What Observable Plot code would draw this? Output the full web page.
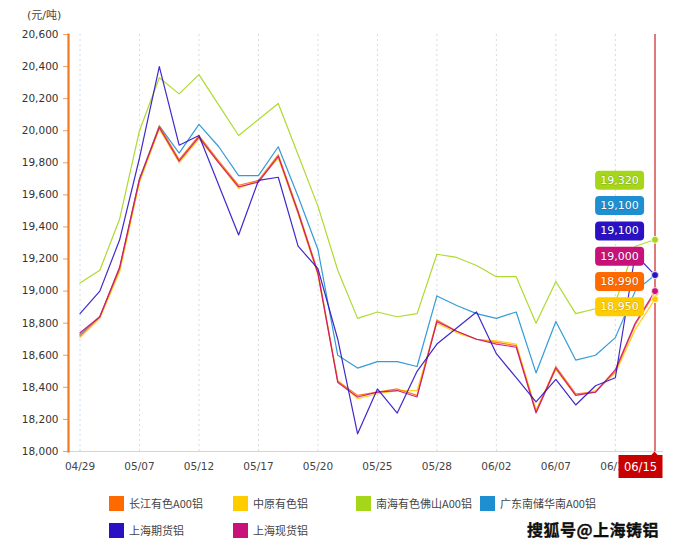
<!DOCTYPE html>
<html><head><meta charset="utf-8">
<script src="https://cdn.jsdelivr.net/npm/d3@7"></script>
<script src="https://cdn.jsdelivr.net/npm/@observablehq/plot@0.6"></script>
<style>
body{margin:0;background:#fff;}
#wrap{position:relative;width:692px;height:547px;font-family:"DejaVu Sans",sans-serif;}
#unit{position:absolute;z-index:2;left:27px;top:6px;font-size:11px;color:#444;font-family:"DejaVu Sans","Noto Sans CJK SC",sans-serif;}
.lg{position:absolute;font-size:11px;color:#444;font-family:"Noto Sans CJK SC",sans-serif;display:flex;align-items:center;white-space:nowrap;}
.lg span.sw{display:inline-block;width:15px;height:15px;margin-right:5px;}
#wm{position:absolute;left:527px;top:517px;font-size:16px;font-weight:bold;color:#111;font-family:"Noto Sans CJK SC",sans-serif;letter-spacing:0.5px;-webkit-text-stroke:0.3px #000;text-shadow:0 0 2px #fff,0 0 2px #fff;}
</style></head>
<body><div id="wrap"><div id="unit">(元/吨)</div></div>
<script>
const dates = ["04/29","04/30","05/06","05/07","05/10","05/11","05/12","05/13","05/14","05/17","05/18","05/19","05/20","05/21","05/24","05/25","05/26","05/27","05/28","05/31","06/01","06/02","06/03","06/04","06/07","06/08","06/09","06/10","06/11","06/15"];
const seriesNames = ["长江有色A00铝","中原有色铝","南海有色佛山A00铝","广东南储华南A00铝","上海期货铝","上海现货铝"];
const seriesColors = ["#FF6A00","#FFCC00","#A5D61A","#1E90D2","#2A12C4","#C8127A"];
const changjiang = [18720,18840,19140,19690,20030,19820,19970,19810,19660,19690,19850,19500,19120,18440,18350,18370,18390,18350,18820,18750,18700,18680,18660,18250,18530,18360,18370,18500,18790,18990];
const zhongyuan  = [18710,18830,19120,19680,20010,19800,19950,19800,19640,19690,19830,19480,19100,18440,18330,18360,18380,18380,18800,18740,18700,18690,18670,18260,18510,18350,18380,18490,18760,18950];
const nanhai     = [19050,19130,19450,20000,20330,20230,20350,20160,19970,20070,20170,19850,19530,19130,18830,18870,18840,18860,19230,19210,19160,19090,19090,18800,19060,18860,18890,18930,19280,19320];
const guangdong  = [18730,18840,19140,19700,20030,19860,20040,19900,19720,19720,19900,19590,19260,18600,18520,18560,18560,18530,18970,18910,18860,18830,18870,18490,18810,18570,18600,18710,19000,19100];
const shfe       = [18860,19000,19320,19830,20400,19910,19970,19660,19350,19690,19710,19280,19140,18700,18110,18390,18240,18500,18670,18770,18870,18610,18460,18310,18450,18290,18410,18460,19230,19100];
const spot       = [18740,18840,19150,19700,20020,19810,19960,19800,19650,19680,19840,19490,19110,18430,18340,18370,18380,18340,18810,18750,18700,18670,18650,18240,18520,18350,18370,18510,18800,19000];
const yTicks = [18000,18200,18400,18600,18800,19000,19200,19400,19600,19800,20000,20200,20400,20600];
const xTicks = ["04/29","05/07","05/12","05/17","05/20","05/25","05/28","06/02","06/07","06/10"];
const highlightDate = "06/15";

const valuesBySeries = [changjiang, zhongyuan, nanhai, guangdong, shfe, spot];
const drawOrder = [2,3,1,0,5,4];
const long = [];
for (const si of drawOrder) {
  valuesBySeries[si].forEach((v,i)=>long.push({date:dates[i], value:v, series:seriesNames[si]}));
}
const lastIdx = dates.indexOf(highlightDate);
const lastPts = seriesNames.map((s,si)=>({date:dates[lastIdx], value:valuesBySeries[si][lastIdx], series:s, color:seriesColors[si], si}));

const chart = Plot.plot({
  width:692, height:485,
  marginLeft:68, marginRight:29, marginTop:34, marginBottom:34,
  style:{fontFamily:"DejaVu Sans, sans-serif", fontSize:"10.5px", color:"#333", background:"transparent"},
  x:{type:"point", domain:dates, padding:0, round:false, range:[79.5,654.5]},
  y:{domain:[18000,20600]},
  color:{domain:seriesNames, range:seriesColors},
  marks:[
    Plot.ruleX(xTicks, {stroke:(d,i)=> i===0 ? "#c9dcef" : "#dadada", strokeDasharray:"2,3"}),
    Plot.ruleY([18000], {stroke:"#d4d4d4"}),
    Plot.axisX({ticks:xTicks, tickSize:0, tickPadding:11, fill:"#444", label:null}),
    Plot.axisY({ticks:yTicks, tickSize:5, tickPadding:5, tickFormat:d3.format(","), stroke:"#F0A060", fill:"#333", label:null}),
    Plot.frame({anchor:"left", stroke:"#F07A20", strokeWidth:2.2}),
    Plot.line(long, {x:"date", y:"value", z:"series", stroke:"series", strokeWidth:1.2, strokeOpacity:0.9}),
    Plot.ruleX([highlightDate], {stroke:"#CC2020", strokeWidth:1.2}),
    Plot.dot(lastPts, {x:"date", y:"value", fill:"series", r:3.5, stroke:"#fff", strokeWidth:0.8})
  ]
});

const wrap = document.getElementById("wrap");
chart.style.position = "absolute"; chart.style.left = "0"; chart.style.top = "0";
wrap.appendChild(chart);

const xs = chart.scale("x"), ys = chart.scale("y");
const xl = xs.apply(highlightDate);
const svg = d3.select(chart);

// value labels (sorted by last value)
const sorted = lastPts.slice().sort((a,b)=> b.value - a.value || a.si - b.si);
const topY = ys.apply(sorted[0].value) - 59;
const fmt = d3.format(",");
const g = svg.append("g");
sorted.forEach((p,i)=>{
  const cy = topY + i*25.3;
  g.append("rect").attr("x", xl-59.4).attr("y", cy-9.5).attr("width",49).attr("height",19).attr("rx",4).attr("fill",p.color);
  g.append("text").attr("x", xl-34.9).attr("y", cy).attr("text-anchor","middle").attr("dominant-baseline","central")
    .attr("fill","#fff").attr("font-size","11px").attr("font-family","DejaVu Sans, sans-serif")
    .style("paint-order","stroke").attr("stroke","rgba(0,0,0,0.12)").attr("stroke-width",1.5)
    .text(fmt(p.value));
});

// highlighted date box on x axis
const by = ys.apply(18000);
const hb = svg.append("g");
hb.append("path").attr("d", `M${xl-4},${by+5}L${xl},${by+0.5}L${xl+4},${by+5}Z`).attr("fill","#C80000");
hb.append("rect").attr("x", xl-36).attr("y", by+4).attr("width",44).attr("height",23).attr("fill","#C80000");
hb.append("text").attr("x", xl-14).attr("y", by+15.5).attr("text-anchor","middle").attr("dominant-baseline","central")
  .attr("fill","#fff").attr("font-size","11.5px").attr("font-family","DejaVu Sans, sans-serif").text(highlightDate);

// legend
const legendPos = [[109,495],[233,495],[356,495],[480,495],[109,522],[233,522]];
seriesNames.forEach((s,i)=>{
  const d = document.createElement("div");
  d.className = "lg";
  d.style.left = legendPos[i][0]+"px"; d.style.top = legendPos[i][1]+"px";
  d.innerHTML = `<span class="sw" style="background:${seriesColors[i]}"></span>${s}`;
  wrap.appendChild(d);
});
const wm = document.createElement("div");
wm.id = "wm"; wm.textContent = "搜狐号@上海铸铝";
wrap.appendChild(wm);
</script>
</body></html>
